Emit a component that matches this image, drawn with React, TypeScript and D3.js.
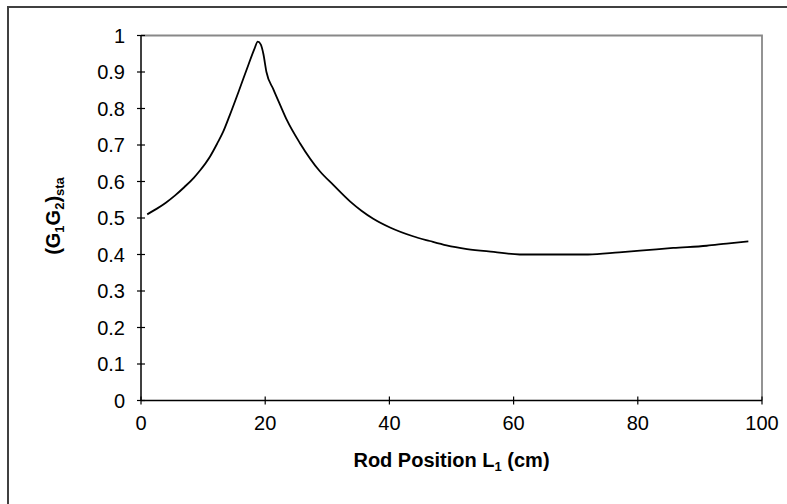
import React from "react";
import * as d3 from "d3";

const xs = [1, 2.5, 4, 5.5, 7, 8.5, 9.5, 11.1, 12.3, 13.2, 14.3, 15.8, 17.3, 18.3, 18.8, 19.3, 19.7, 20.2, 21.3, 22.4, 23.5, 25.6, 28.8, 31, 33.7, 35.5, 37.4, 40.1, 43.8, 46.5, 49.2, 52.5, 56.8, 61, 66, 72, 77, 81.4, 85.7, 91.1, 94.3, 97.8];
const ys = [0.51, 0.525, 0.542, 0.562, 0.585, 0.61, 0.63, 0.668, 0.705, 0.735, 0.782, 0.85, 0.92, 0.965, 0.983, 0.975, 0.95, 0.9, 0.853, 0.81, 0.768, 0.705, 0.628, 0.59, 0.545, 0.52, 0.498, 0.474, 0.45, 0.437, 0.425, 0.415, 0.407, 0.4, 0.4, 0.4, 0.406, 0.412, 0.418, 0.424, 0.43, 0.436];
const xTicks = [0, 20, 40, 60, 80, 100];
const yTicks = [0, 0.1, 0.2, 0.3, 0.4, 0.5, 0.6, 0.7, 0.8, 0.9, 1];

const W = 787, H = 504;
const L = 141, R = 762, T = 35.5, B = 400.5;

export default function App() {
  const x = d3.scaleLinear().domain([0, 100]).range([L, R]);
  const y = d3.scaleLinear().domain([0, 1]).range([B, T]);
  const pts: [number, number][] = xs.map((v, i) => [v, ys[i]]);
  const line = d3.line<[number, number]>().x(d => x(d[0])).y(d => y(d[1])).curve(d3.curveMonotoneX);
  const font = "'Liberation Sans', Arial, sans-serif";
  return (
    <svg width={W} height={H} style={{ position: "absolute", left: 0, top: 0, background: "#fff" }} fontFamily={font}>
      <rect x={8} y={7} width={900} height={700} fill="#fff" stroke="#404040" strokeWidth={2} />
      <path d={`M${L},${T}H${R}V${B}`} fill="none" stroke="#888" strokeWidth={1.8} />
      <line x1={L} x2={L} y1={T} y2={B} stroke="#000" strokeWidth={1.5} />
      <line x1={L} x2={R} y1={B} y2={B} stroke="#000" strokeWidth={1.5} />
      {yTicks.map(t => (
        <g key={"y" + t}>
          <line x1={L - 4} x2={L + 4} y1={y(t)} y2={y(t)} stroke="#000" strokeWidth={1.2} />
          <text x={125} y={y(t)} dy="0.35em" textAnchor="end" fontSize={20}>{t}</text>
        </g>
      ))}
      {xTicks.map(t => (
        <g key={"x" + t}>
          <line x1={x(t)} x2={x(t)} y1={B - 4} y2={B + 4} stroke="#000" strokeWidth={1.2} />
          <text x={x(t)} y={B + 29} textAnchor="middle" fontSize={20}>{t}</text>
        </g>
      ))}
      <path d={line(pts) || ""} fill="none" stroke="#000" strokeWidth={1.8} />
      <text x={(L + R) / 2} y={467} textAnchor="middle" fontSize={20} fontWeight="bold">
        Rod Position L<tspan fontSize={13} dy={4}>1</tspan><tspan dy={-4}> (cm)</tspan>
      </text>
      <text transform={`translate(60,216) rotate(-90)`} textAnchor="middle" fontSize={20} fontWeight="bold">
        (G<tspan fontSize={13} dy={4}>1</tspan><tspan dy={-4}>G</tspan><tspan fontSize={13} dy={4}>2</tspan><tspan dy={-4}>)</tspan><tspan fontSize={13} dy={4}>sta</tspan>
      </text>
    </svg>
  );
}
